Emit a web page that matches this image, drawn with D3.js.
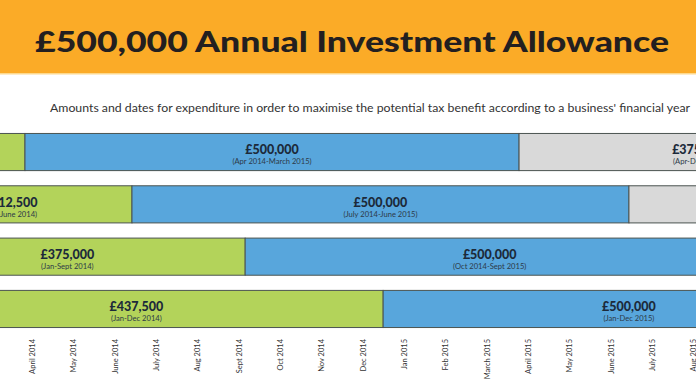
<!DOCTYPE html>
<html>
<head>
<meta charset="utf-8">
<script src="https://cdn.jsdelivr.net/npm/d3@7"></script>
<style>
  body { margin: 0; background: #fff; }
  svg { display: block; font-family: Lato, "Open Sans", sans-serif; }
</style>
</head>
<body>
<script>
// month ticks, index 0 = April 2014
const tickLabels = ["April 2014", "May 2014", "June 2014", "July 2014", "Aug 2014", "Sept 2014",
  "Oct 2014", "Nov 2014", "Dec 2014", "Jan 2015", "Feb 2015", "March 2015", "April 2015",
  "May 2015", "June 2015", "July 2015", "Aug 2015"];

// financial year rows (year end month)
const rows = ["March", "June", "September", "December"];

// segments: row, start and end in months from April 2014
const segRow    = ["March", "March", "March", "June", "June", "June", "September", "September", "December", "December"];
const segStart  = [-3.45, -0.17, 11.79, -3.45, 2.42, 14.45, -3.45, 5.16, -3.45, 8.5];
const segEnd    = [-0.17, 11.79, 20.5, 2.42, 14.45, 22, 5.16, 17.0, 8.5, 20.4];
const segKind   = ["old", "full", "after", "old", "full", "after", "old", "full", "old", "full"];
const segAmount = ["", "£500,000", "£375,000", "£312,500", "£500,000", "", "£375,000", "£500,000", "£437,500", "£500,000"];
const segPeriod = ["", "(Apr 2014-March 2015)", "(Apr-Dec 2015)", "(Jan-June 2014)", "(July 2014-June 2015)", "",
  "(Jan-Sept 2014)", "(Oct 2014-Sept 2015)", "(Jan-Dec 2014)", "(Jan-Dec 2015)"];

const width = 696, height = 385;

const segments = segRow.map((r, i) => ({
  row: r, start: segStart[i], end: segEnd[i], kind: segKind[i],
  amount: segAmount[i], period: segPeriod[i]
}));

const x = d3.scaleLinear()
  .domain([0, tickLabels.length - 1])
  .range([32, 693]);

const y = d3.scaleBand()
  .domain(rows)
  .range([123, 338])
  .paddingInner(0.29)
  .paddingOuter(0.2);

const color = d3.scaleOrdinal()
  .domain(["old", "full", "after"])
  .range(["#b3d35a", "#58a6dc", "#d9d9d9"]);

const svg = d3.select("body").append("svg")
  .attr("width", width)
  .attr("height", height);

// header band
svg.append("rect")
  .attr("width", width)
  .attr("height", 73)
  .attr("fill", "#fbab27");
svg.append("rect")
  .attr("y", 73)
  .attr("width", width)
  .attr("height", 1.5)
  .attr("fill", "#fdd98e");

svg.append("text")
  .attr("x", 352)
  .attr("y", 52)
  .attr("text-anchor", "middle")
  .attr("font-size", 29)
  .attr("font-weight", 900)
  .attr("fill", "#231f20")
  .attr("textLength", 634)
  .attr("lengthAdjust", "spacingAndGlyphs")
  .text("£500,000 Annual Investment Allowance");

svg.append("text")
  .attr("x", 370)
  .attr("y", 112)
  .attr("text-anchor", "middle")
  .attr("font-size", 11)
  .attr("fill", "#333")
  .attr("textLength", 640)
  .attr("lengthAdjust", "spacingAndGlyphs")
  .text("Amounts and dates for expenditure in order to maximise the potential tax benefit according to a business' financial year");

// bars
const bars = svg.append("g")
  .selectAll("g")
  .data(segments)
  .join("g");

bars.append("rect")
  .attr("x", d => x(d.start))
  .attr("y", d => y(d.row))
  .attr("width", d => x(d.end) - x(d.start))
  .attr("height", y.bandwidth())
  .attr("fill", d => color(d.kind))
  .attr("stroke", "#4a5350")
  .attr("stroke-width", 1);

bars.filter(d => d.amount)
  .append("text")
  .attr("x", d => (x(d.start) + x(d.end)) / 2)
  .attr("y", d => y(d.row) + 21)
  .attr("text-anchor", "middle")
  .attr("font-size", 12.5)
  .attr("font-weight", 900)
  .attr("fill", "#1c2a3a")
  .text(d => d.amount);

bars.filter(d => d.period)
  .append("text")
  .attr("x", d => (x(d.start) + x(d.end)) / 2)
  .attr("y", d => y(d.row) + 31)
  .attr("text-anchor", "middle")
  .attr("font-size", 7.6)
  .attr("fill", "#2d3a48")
  .text(d => d.period);

// month axis
const xAxis = g => g
  .attr("transform", "translate(0,339)")
  .call(d3.axisBottom(x)
    .tickValues(d3.range(tickLabels.length))
    .tickFormat(i => tickLabels[i])
    .tickSize(0))
  .call(g => g.select(".domain").remove())
  .call(g => g.selectAll("text")
    .attr("transform", "rotate(-90)")
    .attr("x", 0)
    .attr("y", 0)
    .attr("dy", "0.35em")
    .attr("text-anchor", "end")
    .attr("font-size", 7.5)
    .attr("font-family", "Lato, sans-serif")
    .attr("fill", "#333"));

svg.append("g").call(xAxis);
</script>
</body>
</html>
